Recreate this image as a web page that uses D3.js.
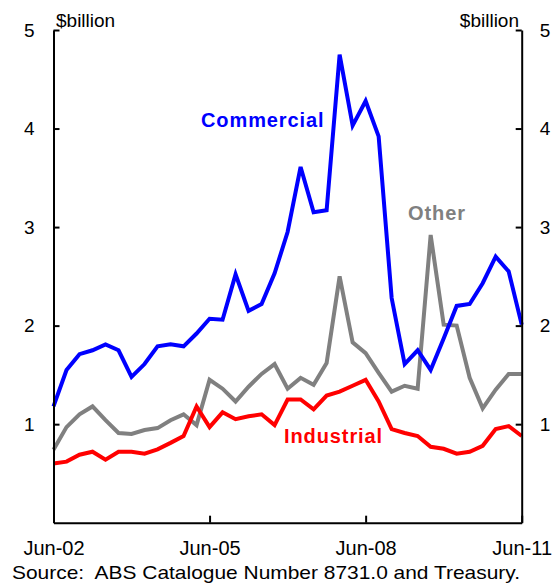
<!DOCTYPE html>
<html>
<head>
<meta charset="utf-8">
<script src="https://cdn.jsdelivr.net/npm/d3@7"></script>
<style>
  html, body { margin: 0; padding: 0; background: #fff; }
  svg { display: block; }
  text { font-family: "Liberation Sans", Arial, sans-serif; }
</style>
</head>
<body>
<svg id="chart" width="558" height="588"></svg>
<script>
// Quarterly, Jun-02 .. Jun-11 (37 quarters)
const quarters = d3.range(37);
const xTickIdx = [0, 12, 24, 36];
const xTickLabels = ["Jun-02", "Jun-05", "Jun-08", "Jun-11"];
const yTicks = [1, 2, 3, 4, 5];

const commercial = [1.18, 1.55, 1.71, 1.75, 1.81, 1.75, 1.48, 1.61, 1.79, 1.81,
                    1.79, 1.92, 2.07, 2.06, 2.52, 2.15, 2.22, 2.53, 2.95, 3.61,
                    3.15, 3.17, 4.75, 4.03, 4.28, 3.92, 2.28, 1.61, 1.75, 1.55,
                    1.87, 2.20, 2.22, 2.43, 2.70, 2.55, 2.01];
const other = [0.74, 0.97, 1.10, 1.18, 1.04, 0.91, 0.90, 0.94, 0.96, 1.04,
               1.10, 0.99, 1.45, 1.36, 1.23, 1.38, 1.51, 1.61, 1.36, 1.47,
               1.40, 1.62, 2.50, 1.83, 1.72, 1.52, 1.33, 1.39, 1.36, 2.92,
               2.01, 2.00, 1.47, 1.16, 1.35, 1.51, 1.51];
const industrial = [0.60, 0.62, 0.69, 0.72, 0.64, 0.72, 0.72, 0.70, 0.745, 0.81,
                    0.88, 1.18, 0.97, 1.12, 1.05, 1.08, 1.10, 0.99, 1.25, 1.25,
                    1.15, 1.29, 1.33, 1.39, 1.45, 1.23, 0.95, 0.91, 0.88, 0.77,
                    0.75, 0.70, 0.72, 0.78, 0.95, 0.98, 0.88];

const seriesNames = ["Commercial", "Industrial", "Other"];
const seriesColors = ["#0000ff", "#ff0000", "#808080"];

const svg = d3.select("#chart");
const x = d3.scaleLinear().domain([0, 36]).range([53.5, 521.7]);
const y = d3.scaleLinear().domain([0, 5]).range([522.7, 30]);

const line = d3.line().x((d, i) => x(i)).y(d => y(d));

// Lines (draw Other, Industrial, Commercial order)
const drawOrder = [
  {data: other, color: seriesColors[2]},
  {data: industrial, color: seriesColors[1]},
  {data: commercial, color: seriesColors[0]}
];
drawOrder.forEach(s => {
  svg.append("path")
    .datum(s.data)
    .attr("fill", "none")
    .attr("stroke", s.color)
    .attr("stroke-width", 4)
    .attr("stroke-linejoin", "miter")
    .attr("d", line);
});

// Axes
const leftAxis = d3.axisLeft(y).tickValues(yTicks).tickSizeInner(-6).tickSizeOuter(0).tickPadding(19).tickFormat(d3.format("d"));
const rightAxis = d3.axisRight(y).tickValues(yTicks).tickSizeInner(-6).tickSizeOuter(0).tickPadding(18).tickFormat(d3.format("d"));
const bottomAxis = d3.axisBottom(x).tickValues(xTickIdx).tickSizeInner(-7).tickSizeOuter(0).tickPadding(18)
  .tickFormat((d, i) => xTickLabels[i]);

function styleAxis(g, fs) {
  g.selectAll(".domain").attr("stroke", "#000").attr("stroke-width", 2);
  g.selectAll(".tick line").attr("stroke", "#000").attr("stroke-width", 2);
  g.selectAll(".tick text").attr("fill", "#000").style("font-size", fs + "px")
    .style("font-family", '"Liberation Sans", Arial, sans-serif');
}

svg.append("g").attr("transform", "translate(53.5,0)").call(leftAxis).call(g => styleAxis(g, 19));
svg.append("g").attr("transform", "translate(521.7,0)").call(rightAxis).call(g => styleAxis(g, 19));
svg.append("g").attr("transform", "translate(0,522.7)").call(bottomAxis).call(g => styleAxis(g, 20));

// Unit labels
svg.append("text").attr("x", 56).attr("y", 27).attr("font-size", 19).text("$billion");
svg.append("text").attr("x", 519).attr("y", 27).attr("font-size", 19).attr("text-anchor", "end").text("$billion");

// Series labels
const labelPos = [
  {name: seriesNames[0], color: seriesColors[0], x: 201, y: 127},
  {name: seriesNames[1], color: seriesColors[1], x: 284, y: 443},
  {name: seriesNames[2], color: seriesColors[2], x: 408, y: 220}
];
labelPos.forEach(l => {
  svg.append("text").attr("x", l.x).attr("y", l.y)
    .attr("fill", l.color).attr("font-size", 20).attr("font-weight", "bold")
    .style("letter-spacing", "0.9px")
    .text(l.name);
});

// Source
svg.append("text").attr("x", 12).attr("y", 579).attr("font-size", 19)
  .attr("textLength", 508).attr("lengthAdjust", "spacingAndGlyphs")
  .style("white-space", "pre")
  .text("Source:  ABS Catalogue Number 8731.0 and Treasury.");
</script>
</body>
</html>
